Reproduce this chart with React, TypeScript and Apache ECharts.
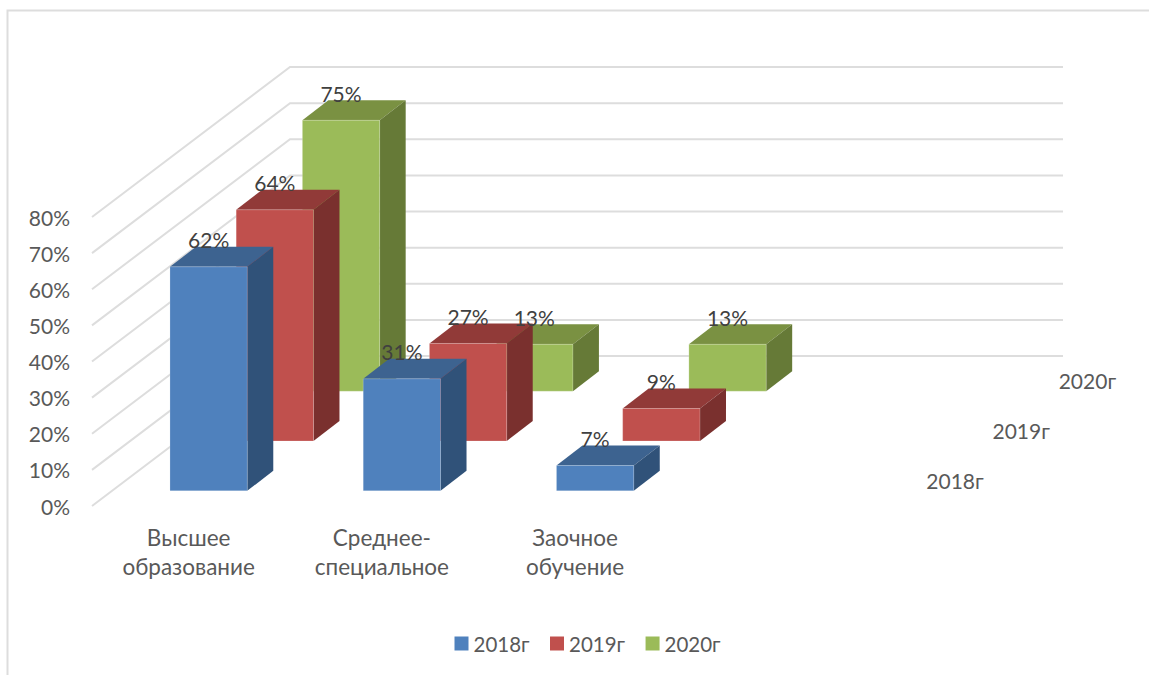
import React, { useEffect, useRef } from "react";
import * as echarts from "echarts";

const categories = ["Высшее\nобразование", "Среднее-\nспециальное", "Заочное\nобучение", ""];
const seriesNames = ["2018г", "2019г", "2020г"];
const values2018 = [62, 31, 7];
const values2019 = [64, 27, 9];
const values2020 = [75, 13, 13];
const yTicks = [0, 10, 20, 30, 40, 50, 60, 70, 80];

const FONT = "Lato, 'Open Sans', sans-serif";
const SLOT = [66.2, -49.8];
const FLOOR_GAP = [20, -15.2];
const BAR_DEPTH = [26, -20];
const WALL = [198, -150];

const palette = [
  { front: "#4f81bd", top: "#3d6390", side: "#305279" },
  { front: "#c0504d", top: "#913a38", side: "#7a302e" },
  { front: "#9bbb59", top: "#7a9142", side: "#667a37" },
];

function barSeries(name: string, values: number[], depth: number) {
  const c = palette[depth];
  return {
    type: "custom",
    name,
    coordinateSystem: "cartesian2d",
    itemStyle: { color: c.front },
    encode: { x: 0, y: 1 },
    data: values.map((v, i) => [i, v]),
    renderItem: (_: any, api: any) => {
      const cat = api.value(0);
      const val = api.value(1);
      const w = api.size([1, 0])[0] * 0.4;
      const top = api.coord([cat, val]);
      const base = api.coord([cat, 0]);
      const ox = FLOOR_GAP[0] + SLOT[0] * depth;
      const oy = FLOOR_GAP[1] + SLOT[1] * depth;
      const l = top[0] - w / 2 + ox;
      const r = l + w;
      const t = top[1] + oy;
      const b = base[1] + oy;
      const [dx, dy] = BAR_DEPTH;
      return {
        type: "group",
        children: [
          {
            type: "polygon",
            shape: { points: [[l, t], [r, t], [r + dx, t + dy], [l + dx, t + dy]] },
            style: { fill: c.top },
          },
          {
            type: "polygon",
            shape: { points: [[r, t], [r + dx, t + dy], [r + dx, b + dy], [r, b]] },
            style: { fill: c.side },
          },
          {
            type: "polygon",
            shape: { points: [[l, t], [r, t], [r, b], [l, b]] },
            style: { fill: c.front, stroke: "rgba(255,255,255,0.2)", lineWidth: 1 },
          },
          {
            type: "text",
            z2: 100,
            style: {
              x: (l + r) / 2,
              y: t - 27,
              text: val + "%",
              fill: "#404040",
              font: `21px ${FONT}`,
              align: "center",
              verticalAlign: "middle",
            },
          },
        ],
      };
    },
  };
}

const wallSeries = {
  type: "custom",
  name: "wall",
  coordinateSystem: "cartesian2d",
  silent: true,
  z: 1,
  encode: { y: 0 },
  data: yTicks.map((v) => [v]),
  renderItem: (params: any, api: any) => {
    const cs = params.coordSys;
    const y = api.coord([0, api.value(0)])[1];
    return {
      type: "polyline",
      shape: {
        points: [
          [cs.x, y],
          [cs.x + WALL[0], y + WALL[1]],
          [cs.x + cs.width + WALL[0], y + WALL[1]],
        ],
      },
      style: { stroke: "#dddddd", lineWidth: 2, fill: "none" },
    };
  },
};

const depthAxisSeries = {
  type: "custom",
  name: "depth",
  coordinateSystem: "cartesian2d",
  silent: true,
  z: 1,
  data: seriesNames.map((n, i) => [i, n]),
  renderItem: (params: any, api: any) => {
    const cs = params.coordSys;
    const i = api.value(0);
    return {
      type: "text",
      style: {
        x: cs.x + cs.width + 90 + SLOT[0] * i,
        y: cs.y + cs.height - 26 + SLOT[1] * i,
        text: seriesNames[i],
        fill: "#595959",
        font: `21px ${FONT}`,
        align: "center",
        verticalAlign: "middle",
      },
    };
  },
};

export default function App() {
  const ref = useRef<HTMLDivElement>(null);
  useEffect(() => {
    const chart = echarts.init(ref.current!, undefined, { renderer: "svg" });
    chart.setOption({
      animation: false,
      backgroundColor: "#ffffff",
      grid: { left: 92, top: 217, width: 773, height: 289 },
      xAxis: {
        type: "category",
        data: categories,
        axisLine: { show: false },
        axisTick: { show: false },
        splitLine: { show: false },
        axisLabel: {
          interval: 0,
          color: "#595959",
          fontFamily: FONT,
          fontSize: 22.5,
          lineHeight: 29,
          margin: 16.5,
        },
      },
      yAxis: {
        type: "value",
        min: 0,
        max: 80,
        interval: 10,
        axisLine: { show: false },
        axisTick: { show: false },
        splitLine: { show: false },
        axisLabel: {
          color: "#595959",
          fontFamily: FONT,
          fontSize: 21,
          margin: 22,
          formatter: "{value}%",
        },
      },
      legend: {
        left: 449.5,
        top: 628,
        itemWidth: 14,
        itemHeight: 14,
        itemGap: 20.5,
        icon: "rect",
        data: seriesNames,
        textStyle: { color: "#595959", fontFamily: FONT, fontSize: 20.5 },
      },
      graphic: [
        {
          type: "polyline",
          silent: true,
          shape: { points: [[7.5, 675], [7.5, 10.5], [1149, 10.5]] },
          style: { stroke: "#dddddd", lineWidth: 2, fill: "none" },
        },
      ],
      series: [
        wallSeries,
        depthAxisSeries,
        barSeries(seriesNames[2], values2020, 2),
        barSeries(seriesNames[1], values2019, 1),
        barSeries(seriesNames[0], values2018, 0),
      ],
    });
    return () => chart.dispose();
  }, []);
  return <div ref={ref} style={{ position: "absolute", left: 0, top: 0, width: 1149, height: 675 }} />;
}
